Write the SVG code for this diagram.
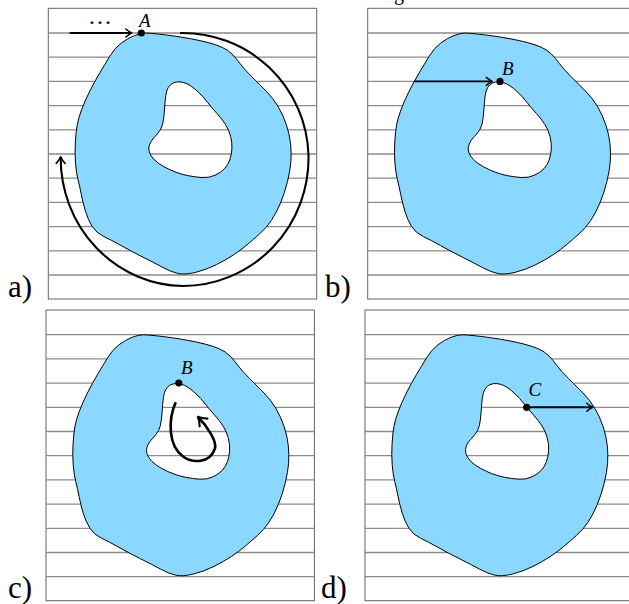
<svg xmlns="http://www.w3.org/2000/svg" width="629" height="604" viewBox="0 0 629 604">
<style>
.frame{fill:#fff;stroke:#666;stroke-width:1}
.hl{fill:none;stroke:#8c8c8c;stroke-width:1.3}
.blob{fill:#8ad8ff;stroke:#000;stroke-width:1;fill-rule:evenodd}
.lbl{font-family:"Liberation Serif",serif;font-size:31px;fill:#000}
.pt{font-family:"Liberation Serif",serif;font-style:italic;font-size:19px;fill:#000}
.arr{fill:none;stroke:#000;stroke-width:1.9;marker-end:url(#to)}
.arc{fill:none;stroke:#000;stroke-width:2.1;marker-end:url(#to)}
.spiral{fill:none;stroke:#000;stroke-width:2.6;marker-end:url(#to)}
.dot{fill:#000}
</style>
<defs>
<marker id="to" markerUnits="strokeWidth" orient="auto" overflow="visible" markerWidth="6" markerHeight="6" refX="0" refY="0">
<path d="M-3,-2.1 Q-1,-0.3 0.3,0 Q-1,0.3 -3,2.1" fill="none" stroke="#000" stroke-width="0.8" stroke-linecap="round"/>
</marker>
<g id="grid">
<rect class="frame" x="48.3" y="8.3" width="268.4" height="290.7"/>
<path class="hl" d="M48.3 33H316.7M48.3 57.2H316.7M48.3 81.4H316.7M48.3 105.6H316.7M48.3 129.8H316.7M48.3 154H316.7M48.3 178.2H316.7M48.3 202.4H316.7M48.3 226.6H316.7M48.3 250.8H316.7M48.3 275H316.7"/>
</g>
<path id="blob" class="blob" d="M134.65,35.5 Q141.3,33 145.65,33.1 Q150,33.2 157.35,33.95 Q164.7,34.7 173.85,36 Q183,37.3 191.5,38.9 Q200,40.5 208.15,42.6 Q216.3,44.7 222.15,47.35 Q228,50 232,54 Q236,58 240,63.5 Q244,69 251.85,76.85 Q259.7,84.7 266.35,91.35 Q273,98 278,106.35 Q283,114.7 286.35,124.7 Q289.7,134.7 290.6,143.85 Q291.5,153 290.9,161.5 Q290.3,170 287.5,181.5 Q284.7,193 280.5,203 Q276.3,213 271.3,220.5 Q266.3,228 259.65,233.85 Q253,239.7 247.15,244.7 Q241.3,249.7 233.8,254.7 Q226.3,259.7 216.3,264.7 Q206.3,269.7 195.65,272.35 Q185,275 178.15,273.5 Q171.3,272 163,267.5 Q154.7,263 143,257.15 Q131.3,251.3 121.3,245.65 Q111.3,240 103.8,236.5 Q96.3,233 92.15,226.35 Q88,219.7 85.5,211.35 Q83,203 81.35,194.65 Q79.7,186.3 78,179.65 Q76.3,173 75.5,163 Q74.7,153 75.35,142.15 Q76,131.3 77.25,124.65 Q78.5,118 81.6,109.65 Q84.7,101.3 89.7,91.3 Q94.7,81.3 99.7,73 Q104.7,64.7 109.7,56.35 Q114.7,48 121.35,43 Q128,38 134.65,35.5 Z M176.5,82 Q180,81.5 183.5,82.5 Q187,83.5 190.5,85.75 Q194,88 198.5,92.25 Q203,96.5 207.5,102.25 Q212,108 217,113.5 Q222,119 225.5,124.5 Q229,130 230.65,136.5 Q232.3,143 231.9,149 Q231.5,155 229.75,160 Q228,165 224.5,168.75 Q221,172.5 215,175.25 Q209,178 202,177.5 Q195,177 188.5,175.75 Q182,174.5 176,172.25 Q170,170 164,166.75 Q158,163.5 154.25,159.75 Q150.5,156 149.25,152 Q148,148 149.75,144 Q151.5,140 155,136.5 Q158.5,133 160.75,129 Q163,125 163.75,117.5 Q164.5,110 165,102.5 Q165.5,95 166.75,91 Q168,87 170.5,84.75 Q173,82.5 176.5,82 Z"/>
</defs>

<text class="lbl" x="394" y="-0.5" style="font-size:20px">g</text>

<g id="panel-a">
<use href="#grid"/>
<use href="#blob"/>
<text class="lbl" x="8" y="297">a)</text>
</g>
<g id="panel-b" transform="translate(319.4,0)">
<use href="#grid"/>
<use href="#blob"/>
</g>
<text class="lbl" x="325" y="297">b)</text>
<g id="panel-c" transform="translate(-2.3,301.7)">
<use href="#grid"/>
<use href="#blob"/>
</g>
<text class="lbl" x="8" y="598">c)</text>
<g id="panel-d" transform="translate(316.7,301.7)">
<use href="#grid"/>
<use href="#blob"/>
</g>
<text class="lbl" x="321" y="598">d)</text>

<g id="connectors">
<path class="arr" d="M69.7,33 H131.5"/>
<path class="arc" d="M180,33 A126 126 0 0 1 308.5,155 A126 128 0 0 1 183,286 A124 128 0 0 1 60.7,157"/>
<path class="arr" d="M414.3,81.4 H492"/>
<path class="spiral" d="M175.7,402.3 C168,420 168,446 183.3,456.7 C192,462.8 210,464 215,448.3 C217,441 207,426 198,417"/>
<path class="arr" d="M526.7,407.3 H592.5"/>
</g>

<g id="node-A">
<circle class="dot" cx="141.3" cy="33" r="3.6"/>
<text class="pt" x="139" y="26.5">A</text>
<text class="lbl" x="88" y="24" style="font-size:24px">…</text>
</g>
<g id="node-B1">
<circle class="dot" cx="500" cy="81.4" r="3.6"/>
<text class="pt" x="502" y="75">B</text>
</g>
<g id="node-B2">
<circle class="dot" cx="178.8" cy="383" r="3.6"/>
<text class="pt" x="181" y="373.5">B</text>
</g>
<g id="node-C">
<circle class="dot" cx="526.7" cy="407.3" r="3.6"/>
<text class="pt" x="528.5" y="396">C</text>
</g>
</svg>
